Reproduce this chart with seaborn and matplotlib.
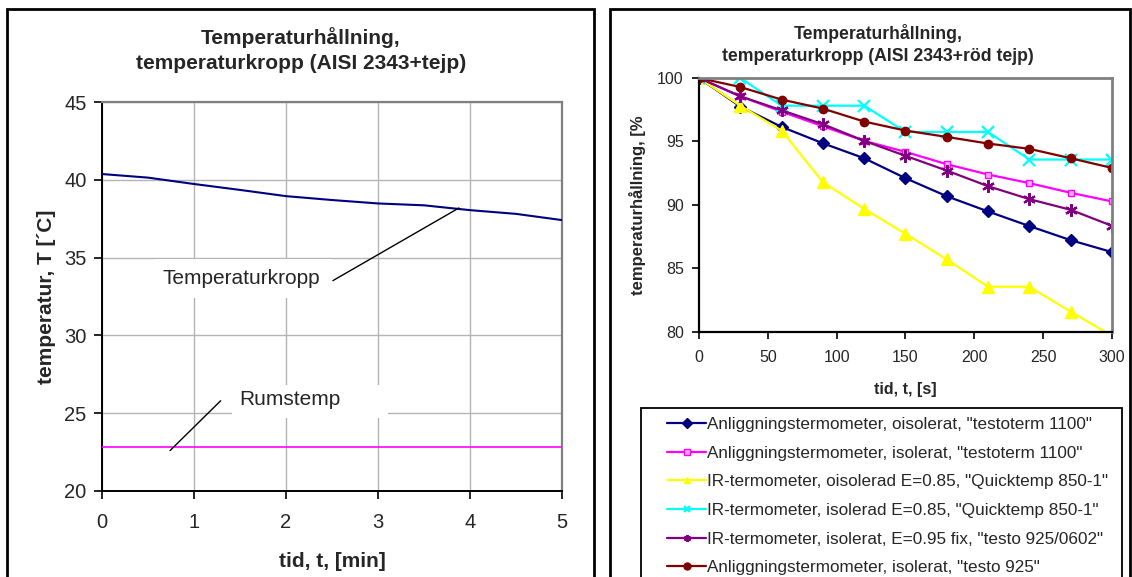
import numpy as np
import pandas as pd
import matplotlib
matplotlib.use("Agg")
import matplotlib.pyplot as plt
from matplotlib.patches import Rectangle
import seaborn as sns

# ---------------- data ----------------
t_min = [0, 0.5, 1, 1.5, 2, 2.5, 3, 3.5, 4, 4.5, 5]
temp_kropp = [40.37, 40.14, 39.73, 39.35, 38.95, 38.70, 38.48, 38.36, 38.05, 37.81, 37.41]
temp_rum = [22.85] * len(t_min)

t_s = [0, 30, 60, 90, 120, 150, 180, 210, 240, 270, 300]
s_blue = [100, 97.75, 96.15, 94.86, 93.68, 92.11, 90.69, 89.49, 88.34, 87.23, 86.29]
s_magenta = [100, 98.56, 97.35, 96.20, 95.05, 94.18, 93.21, 92.40, 91.72, 90.96, 90.28]
s_yellow = [100, 97.82, 95.86, 91.80, 89.70, 87.73, 85.71, 83.56, 83.56, 81.60, 79.70]
s_cyan = [100, 100, 97.82, 97.82, 97.82, 95.75, 95.75, 95.75, 93.58, 93.58, 93.58]
s_purple = [100, 98.56, 97.46, 96.36, 95.05, 93.87, 92.71, 91.48, 90.46, 89.62, 88.36]
s_darkred = [100, 99.29, 98.30, 97.59, 96.57, 95.86, 95.36, 94.84, 94.42, 93.68, 92.92]

legend_labels = [
    'Anliggningstermometer, oisolerat, "testoterm 1100"',
    'Anliggningstermometer, isolerat, "testoterm 1100"',
    'IR-termometer, oisolerad E=0.85, "Quicktemp 850-1"',
    'IR-termometer, isolerad E=0.85, "Quicktemp 850-1"',
    'IR-termometer, isolerat, E=0.95 fix, "testo 925/0602"',
    'Anliggningstermometer, isolerat, "testo 925"',
]
series_right = [s_blue, s_magenta, s_yellow, s_cyan, s_purple, s_darkred]

# ---------------- style ----------------
sns.set_style("white")
plt.rcParams["font.family"] = ["Liberation Sans", "DejaVu Sans"]

W, H = 1132, 577
fig = plt.figure(figsize=(W / 100, H / 100), dpi=100)

def fx(px):
    return px / W

def fy(py):
    return 1 - py / H

# panel frames
for (x0, x1) in [(7, 594), (610, 1130)]:
    fig.patches.append(Rectangle((fx(x0), fy(H + 20)), fx(x1 - x0), (H + 20 - 9) / H,
                                 transform=fig.transFigure, fill=False,
                                 edgecolor="black", linewidth=2.0, zorder=0))

# ---------------- left chart ----------------
axL = fig.add_axes([fx(102), fy(491), fx(460), (491 - 102) / H])
dfL = pd.DataFrame({"t": t_min + t_min,
                    "T": temp_kropp + temp_rum,
                    "serie": ["Temperaturkropp"] * len(t_min) + ["Rumstemp"] * len(t_min)})
sns.lineplot(data=dfL, x="t", y="T", hue="serie",
             palette={"Temperaturkropp": "#000080", "Rumstemp": "#FF00FF"},
             estimator=None, sort=False, ax=axL, legend=False, zorder=3)
for ln, lw in zip(axL.get_lines(), [1.5, 1.2]):
    ln.set_linewidth(lw)

axL.set_xlim(0, 5)
axL.set_ylim(20, 45)
axL.set_xticks(range(0, 6))
axL.set_yticks(range(20, 46, 5))
axL.grid(True, color="#b4b4b4", linewidth=1.0, zorder=0)
axL.set_axisbelow(True)
for s in ["top", "right"]:
    axL.spines[s].set_color("#808080")
    axL.spines[s].set_linewidth(1.6)
for s in ["left", "bottom"]:
    axL.spines[s].set_color("black")
    axL.spines[s].set_linewidth(1.4)
axL.tick_params(axis="both", direction="out", length=6, width=1.2, color="black",
                labelsize=14.5, left=True, bottom=True)
axL.tick_params(axis="x", pad=10)
axL.tick_params(axis="y", pad=5)
axL.set_xlabel("tid, t, [min]", fontsize=15, fontweight="bold", labelpad=14)
axL.set_ylabel("temperatur, T [´C]", fontsize=15, fontweight="bold", labelpad=6)

# white label boxes + labels
axL.add_patch(Rectangle((0.58, 32.4), 1.92, 2.5, facecolor="white", edgecolor="none", zorder=1))
axL.add_patch(Rectangle((1.41, 24.69), 1.70, 2.12, facecolor="white", edgecolor="none", zorder=1))
axL.text(0.66, 33.68, "Temperaturkropp", fontsize=15, va="center", ha="left", zorder=4)
axL.text(1.49, 25.85, "Rumstemp", fontsize=15, va="center", ha="left", zorder=4)
axL.plot([2.51, 3.88], [33.52, 38.19], color="black", linewidth=1.0, zorder=4)
axL.plot([0.74, 1.29], [22.6, 25.8], color="black", linewidth=1.0, zorder=4)

fig.text(fx(301), fy(50), "Temperaturhållning,\ntemperaturkropp (AISI 2343+tejp)",
         ha="center", va="center", fontsize=15, fontweight="bold", linespacing=1.35)

# ---------------- right chart ----------------
axR = fig.add_axes([fx(699), fy(332), fx(413), (332 - 78) / H])
colors = ["#000080", "#FF00FF", "#FFFF00", "#00FFFF", "#800080", "#800000"]
markers = ["D", "s", "^", "x", (6, 2, 0), "o"]
msizes = [6, 5, 8, 8, 9, 6]

dfR = pd.DataFrame({"t": t_s * len(series_right),
                    "v": sum(series_right, []),
                    "serie": sum([[lab] * len(t_s) for lab in legend_labels], [])})
sns.lineplot(data=dfR, x="t", y="v", hue="serie", hue_order=legend_labels,
             palette=dict(zip(legend_labels, colors)), estimator=None, sort=False,
             ax=axR, legend=False)
for ln, c, m, ms in zip(axR.get_lines(), colors, markers, msizes):
    ln.set_linewidth(1.6)
    ln.set_marker(m)
    ln.set_markersize(ms)
    ln.set_markeredgecolor(c)
    ln.set_markerfacecolor(c)
    ln.set_markeredgewidth(1.6 if m in ("x", (6, 2, 0)) else 1.0)
axR.get_lines()[1].set_markerfacecolor("#ffb0ff")

axR.set_xlim(0, 300)
axR.set_ylim(80, 100)
axR.set_xticks(range(0, 301, 50))
axR.set_yticks(range(80, 101, 5))
for s in ["top", "right"]:
    axR.spines[s].set_color("#808080")
    axR.spines[s].set_linewidth(2.0)
for s in ["left", "bottom"]:
    axR.spines[s].set_color("black")
    axR.spines[s].set_linewidth(1.6)
axR.tick_params(axis="both", direction="out", length=5, width=1.2, color="black",
                labelsize=11.5, left=True, bottom=True)
axR.tick_params(axis="x", pad=8)
axR.tick_params(axis="y", pad=6)
axR.set_xlabel("tid, t, [s]", fontsize=11.5, fontweight="bold", labelpad=12)
axR.set_ylabel("temperaturhållning, [%", fontsize=12, fontweight="bold", labelpad=8)

fig.text(fx(878), fy(44.5), "Temperaturhållning,\ntemperaturkropp (AISI 2343+röd tejp)",
         ha="center", va="center", fontsize=12.7, fontweight="bold", linespacing=1.35)

# legend frame + legend
fig.patches.append(Rectangle((fx(641), fy(H + 20)), fx(1122 - 641), (H + 20 - 408) / H,
                             transform=fig.transFigure, fill=False,
                             edgecolor="black", linewidth=1.3, zorder=1))
handles = axR.get_lines()[:6]
leg = fig.legend(handles, legend_labels, loc="upper left",
                 bbox_to_anchor=(fx(667), fy(417)),
                 fontsize=12.3, frameon=False, handlelength=2.3, handletextpad=0.05,
                 labelspacing=0.8, borderpad=0, borderaxespad=0)
for h in leg.legend_handles:
    h.set_markersize(5)

fig.savefig("out.png", dpi=100)
